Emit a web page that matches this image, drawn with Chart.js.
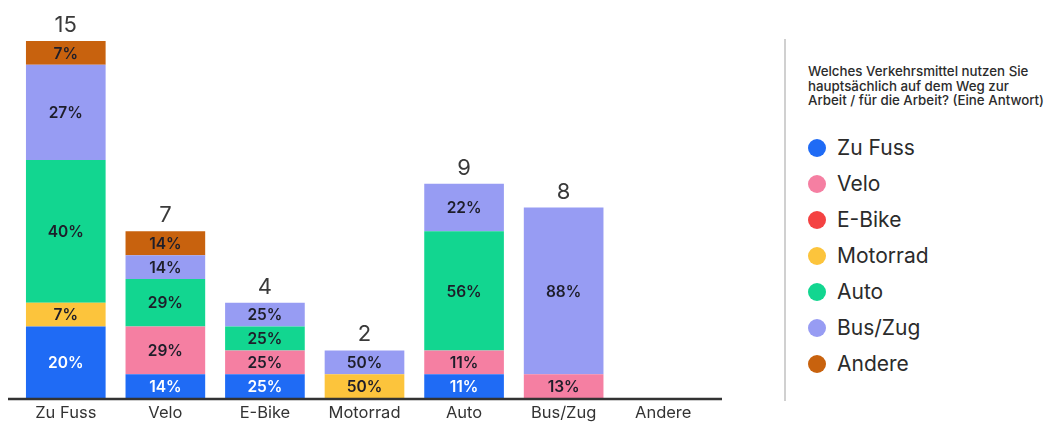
<!DOCTYPE html>
<html lang="de">
<head>
    <meta charset="UTF-8">
    <title>Verkehrsmittel Arbeitsweg</title>
    <style>
        html, body{
            margin: 0;
            padding: 0;
            background: #fff;
            font-family: Inter, "Noto Sans", sans-serif;
        }
        #wrap{
            position: relative;
            width: 1048px;
            height: 423px;
        }
        #diagrammBox{
            position: absolute;
            left: 0;
            top: 0;
            width: 730px;
            height: 423px;
        }
        #trenner{
            position: absolute;
            left: 784px;
            top: 39px;
            width: 2px;
            height: 362px;
            background: #d0d0d0;
        }
        #legende{
            position: absolute;
            left: 808px;
            top: 64px;
            color: #2b2b2b;
        }
        #legende .titel{
            font-size: 13.3px;
            font-weight: 500;
            line-height: 14.5px;
            width: 240px;
            margin-bottom: 22px;
        }
        #legende .eintrag{
            display: flex;
            align-items: center;
            height: 36px;
            font-size: 21px;
            font-weight: 400;
        }
        #legende .punkt{
            width: 18px;
            height: 18px;
            border-radius: 50%;
            margin-right: 11px;
        }
    </style>
</head>
<body>
<div id="wrap">
    <div id="diagrammBox"><canvas id="diagramm"></canvas></div>
    <div id="trenner"></div>
    <div id="legende">
        <div class="titel">Welches Verkehrsmittel nutzen Sie<br>hauptsächlich auf dem Weg zur<br>Arbeit / für die Arbeit? (Eine Antwort)</div>
    </div>
</div>

<script src="https://cdn.jsdelivr.net/npm/chart.js"></script>
<script>
    // Kategorien (x-Achse) und Serien (Stapel)
    const kategorien = ['Zu Fuss', 'Velo', 'E-Bike', 'Motorrad', 'Auto', 'Bus/Zug', 'Andere'];
    const serien = ['Zu Fuss', 'Velo', 'E-Bike', 'Motorrad', 'Auto', 'Bus/Zug', 'Andere'];
    const farben = ['#1f6bf5', '#f57fa2', '#f44242', '#fcc43c', '#12d690', '#979cf3', '#c8620e'];

    // Anzahl Antworten je Serie, pro Kategorie
    const zuFuss   = [3, 1, 1, 0, 1, 0, 0];
    const velo     = [0, 2, 1, 0, 1, 1, 0];
    const eBike    = [0, 0, 0, 0, 0, 0, 0];
    const motorrad = [1, 0, 0, 1, 0, 0, 0];
    const auto     = [6, 2, 1, 0, 5, 0, 0];
    const busZug   = [4, 1, 1, 1, 2, 7, 0];
    const andere   = [1, 1, 0, 0, 0, 0, 0];
    const werte = [zuFuss, velo, eBike, motorrad, auto, busZug, andere];

    const summen = kategorien.map((k, i) => werte.reduce((s, reihe) => s + reihe[i], 0));

    // Legende
    const legende = document.getElementById('legende');
    serien.forEach((name, i) => {
        const el = document.createElement('div');
        el.className = 'eintrag';
        el.innerHTML = `<span class="punkt" style="background:${farben[i]}"></span>${name}`;
        legende.appendChild(el);
    });

    // Prozente in den Segmenten, Summe oben drauf, Achsenlinie
    const beschriftung = {
        id: 'beschriftung',
        afterDatasetsDraw(chart){
            const ctx = chart.ctx;
            const area = chart.chartArea;
            ctx.save();
            ctx.textAlign = 'center';
            ctx.textBaseline = 'middle';
            ctx.font = '600 15.5px Inter, sans-serif';
            chart.data.datasets.forEach((ds, d) => {
                const meta = chart.getDatasetMeta(d);
                meta.data.forEach((bar, i) => {
                    const v = ds.data[i];
                    if (!v) return;
                    const prozent = Math.round(v / summen[i] * 100);
                    ctx.fillStyle = d === 0 ? '#ffffff' : '#1e1e2a';
                    ctx.fillText(prozent + '%', bar.x, (bar.y + bar.base) / 2 + 1);
                });
            });
            const oben = chart.getDatasetMeta(0);
            ctx.font = '400 22px Inter, sans-serif';
            ctx.fillStyle = '#3a3a3a';
            ctx.textBaseline = 'alphabetic';
            summen.forEach((s, i) => {
                if (!s) return;
                const y = chart.scales.y.getPixelForValue(s);
                ctx.fillText(String(s), oben.data[i].x, y - 9);
            });
            ctx.strokeStyle = '#333';
            ctx.lineWidth = 2.5;
            ctx.beginPath();
            ctx.moveTo(area.left - 8, area.bottom + 1);
            ctx.lineTo(area.right + 9, area.bottom + 1);
            ctx.stroke();
            ctx.restore();
        }
    };

    new Chart(document.getElementById('diagramm'), {
        type: 'bar',
        data: {
            labels: kategorien,
            datasets: serien.map((name, i) => ({
                label: name,
                data: werte[i],
                backgroundColor: farben[i],
                borderWidth: 0,
                barPercentage: 0.8,
                categoryPercentage: 1.0
            }))
        },
        options: {
            responsive: true,
            maintainAspectRatio: false,
            animation: false,
            layout: { padding: { left: 16, right: 17, top: 0, bottom: 0 } },
            plugins: {
                legend: { display: false },
                tooltip: { enabled: false }
            },
            scales: {
                x: {
                    stacked: true,
                    grid: { display: false },
                    border: { display: false },
                    ticks: {
                        color: '#333',
                        font: { family: 'Inter', size: 16.5 },
                        padding: -3,
                        maxRotation: 0
                    },
                    afterFit(scale){ scale.height = 25; }
                },
                y: {
                    stacked: true,
                    display: false,
                    min: 0,
                    max: 16.72
                }
            }
        },
        plugins: [beschriftung]
    });
</script>
</body>
</html>
